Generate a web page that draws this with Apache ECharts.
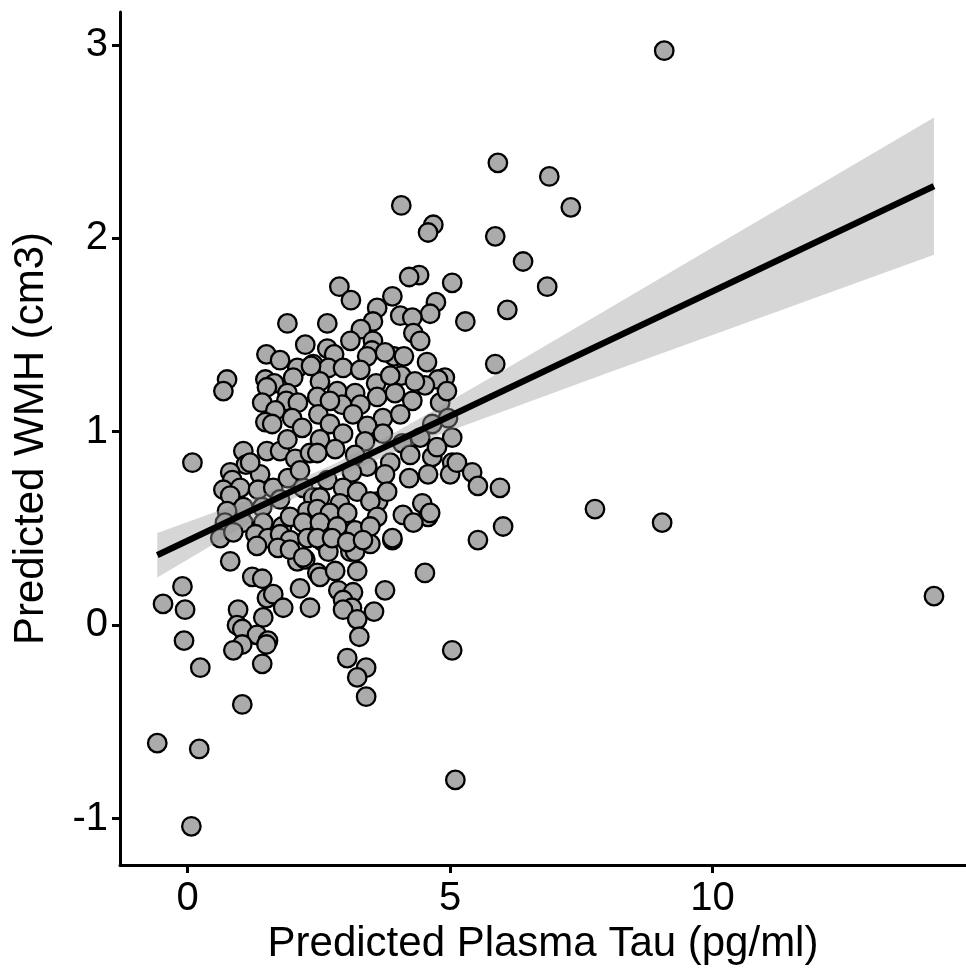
<!DOCTYPE html>
<html>
<head>
<meta charset="utf-8">
<script src="https://cdn.jsdelivr.net/npm/echarts@6/dist/echarts.min.js"></script>
<style>
  html, body { margin: 0; padding: 0; background: #fff; }
  #chart { width: 966px; height: 975px; }
</style>
</head>
<body>
<div id="chart"></div>
<script>
// Predicted plasma tau (pg/ml) for each participant
const tauX = [
  9.08, 5.91, 6.89, 7.30, 4.07, 4.68, 4.58, 5.86, 6.39, 2.89, 5.04, 6.85, 4.41, 4.22, 3.11, 4.73,
  3.90, 6.09, 3.61, 4.62, 4.05, 4.28, 1.90, 2.66, 5.29, 3.53, 3.30, 4.30, 4.43, 3.53, 3.51, 2.66,
  2.79, 3.42, 3.93, 4.12, 4.56, 2.39, 2.68, 2.96, 3.29, 4.07, 4.90, 4.77, 2.52, 2.85, 3.19, 3.59,
  3.61, 3.95, 4.28, 4.52, 4.81, 2.47, 2.94, 3.29, 2.49, 3.15, 3.72, 4.05, 2.71, 3.42, 1.50, 1.76,
  2.09, 2.35, 0.75, 0.68, 1.48, 1.65, 2.01, 1.51, 1.90, 1.42, 1.88, 2.10, 1.67, 1.99, 1.48, 2.18,
  0.09, 1.61, 1.06, 1.51, 1.76, 1.90, 2.05, 2.33, 1.11, 0.81, 1.38, 0.85, 0.68, 1.00, 1.34, 1.63,
  1.91, 2.20, 2.39, 0.81, 1.06, 1.42, 1.76, 0.75, 0.71, 1.06, 1.44, 1.80, 1.95, 2.28, 2.20, 0.62,
  0.87, 1.29, 1.53, 1.76, 1.95, 2.28, 1.32, -0.10, -0.47, -0.05, 0.81, 1.23, 1.42, 0.96, 0.94, 1.04,
  1.44, 1.51, 1.63, 1.82, 2.14, 2.33, 1.32, 1.53, 1.50, 1.04, 0.87, -0.07, 1.42, 0.24, 1.04, 2.09,
  2.24, 2.47, 1.72, 1.95, 2.20, 2.58, 2.68, 3.10, 3.19, 3.48, 3.90, 2.52, 2.81, 3.23, 4.52, 2.87,
  3.15, 2.96, 3.13, 2.96, 3.76, 3.55, 3.23, 3.27, 5.04, 3.04, 3.40, 3.23, 3.40, 2.52, 2.96, 3.38,
  3.72, 4.09, 4.43, 5.04, 2.81, 2.47, 3.86, 4.24, 4.66, 5.04, 3.42, 3.13, 3.76, 4.22, 4.58, 5.00,
  2.66, 2.96, 3.23, 2.52, 2.90, 3.63, 3.80, 3.48, 4.47, 2.47, 2.71, 3.04, 3.61, 4.10, 4.58, 4.30,
  2.52, 2.85, 3.19, 3.48, 2.47, 2.75, 3.04, 3.34, 3.90, 5.86, 4.94, 4.96, 4.75, 5.13, 5.42, 5.53,
  5.95, 7.76, 6.01, 5.53, 4.62, -0.58, 0.22, 0.07, 5.10, 9.04, 14.22, 2.24, 3.10, 3.76, 3.86, 4.33,
  2.71, 4.66, 3.19, 2.14, 1.19
];

// Predicted white matter hyperintensity volume (cm3), paired with tauX
const wmhY = [
  2.97, 2.39, 2.32, 2.16, 2.17, 2.07, 2.03, 2.01, 1.88, 1.75, 1.77, 1.75, 1.81, 1.80, 1.68, 1.67,
  1.70, 1.63, 1.64, 1.61, 1.60, 1.59, 1.56, 1.56, 1.57, 1.57, 1.53, 1.51, 1.47, 1.47, 1.42, 1.43,
  1.40, 1.39, 1.39, 1.39, 1.36, 1.35, 1.33, 1.33, 1.32, 1.29, 1.28, 1.27, 1.26, 1.21, 1.20, 1.25,
  1.18, 1.20, 1.16, 1.24, 1.15, 1.18, 1.14, 1.14, 1.09, 1.09, 1.07, 1.09, 1.04, 1.03, 1.40, 1.37,
  1.33, 1.34, 1.27, 1.21, 1.27, 1.25, 1.28, 1.23, 1.20, 1.15, 1.16, 1.15, 1.11, 1.07, 1.05, 1.02,
  0.84, 1.04, 0.90, 0.90, 0.90, 0.96, 0.86, 0.89, 0.83, 0.79, 0.78, 0.75, 0.70, 0.71, 0.70, 0.71,
  0.76, 0.71, 0.66, 0.67, 0.61, 0.61, 0.65, 0.59, 0.53, 0.53, 0.53, 0.51, 0.56, 0.59, 0.53, 0.45,
  0.48, 0.47, 0.45, 0.47, 0.44, 0.45, 0.41, 0.20, 0.11, 0.08, 0.33, 0.25, 0.24, 0.08, 0.00, -0.02,
  0.04, 0.14, 0.16, 0.09, 0.19, 0.09, -0.05, -0.08, -0.10, -0.10, -0.13, -0.08, -0.20, -0.22, -0.41, 0.33,
  0.34, 0.27, 0.40, 0.39, 0.35, 0.43, 0.38, 0.38, 0.38, 0.42, 0.44, 0.25, 0.28, 0.28, 0.27, 0.18,
  0.17, 0.13, 0.09, 0.08, 0.18, 0.07, 0.03, -0.06, -0.13, -0.17, -0.22, -0.27, -0.37, 0.96, 0.99, 0.95,
  0.99, 0.94, 0.97, 0.97, 0.91, 0.89, 0.84, 0.88, 0.87, 0.84, 0.82, 0.79, 0.78, 0.76, 0.78, 0.78,
  0.75, 0.71, 0.69, 0.66, 0.63, 0.64, 0.69, 0.64, 0.63, 0.60, 0.58, 0.58, 0.56, 0.57, 0.56, 0.53,
  0.53, 0.51, 0.49, 0.51, 0.45, 0.45, 0.43, 0.44, 0.45, 1.35, 1.21, 1.07, 0.92, 0.84, 0.79, 0.72,
  0.71, 0.60, 0.51, 0.44, 0.58, -0.61, -0.64, -1.04, -0.80, 0.53, 0.15, 1.45, 1.47, 1.41, 1.29, 1.26,
  1.16, 1.04, 0.88, 0.80, 0.84
];

// Fitted regression line and its 95% confidence band
const fitX = [-0.58, 14.22];
const fitY = [0.362, 2.270];
const bandX     = [-0.58, 1, 2, 2.8, 4, 5, 6, 8, 10, 12, 14.22];
const bandUpper = [0.477, 0.632, 0.738, 0.834, 1.004, 1.159, 1.315, 1.633, 1.952, 2.271, 2.625];
const bandLower = [0.247, 0.500, 0.652, 0.762, 0.902, 1.005, 1.105, 1.303, 1.500, 1.697, 1.915];

// Axis ticks
const xTicks = [0, 5, 10];
const yTicks = [-1, 0, 1, 2, 3];

const FONT = 'Liberation Sans, Arial, Helvetica, sans-serif';

const points = tauX.map((x, i) => [x, wmhY[i]]);
const fitLine = fitX.map((x, i) => [x, fitY[i]]);

const chart = echarts.init(document.getElementById('chart'), null, { renderer: 'canvas' });

const axisCommon = {
  type: 'value',
  splitLine: { show: false },
  axisLine: { show: true, onZero: false, lineStyle: { color: '#000', width: 3 } },
  axisTick: { show: true, length: 8, lineStyle: { color: '#000', width: 3 } },
  nameLocation: 'middle',
  nameTextStyle: { fontFamily: FONT, fontSize: 42, color: '#000' }
};

chart.setOption({
  animation: false,
  backgroundColor: '#fff',
  grid: { left: 120, right: 0, top: 12, bottom: 110, containLabel: false },
  xAxis: Object.assign({}, axisCommon, {
    min: -1.29,
    max: 14.83,
    name: 'Predicted Plasma Tau (pg/ml)',
    nameGap: 58,
    axisTick: Object.assign({}, axisCommon.axisTick, { customValues: xTicks }),
    axisLabel: {
      customValues: xTicks,
      fontFamily: FONT, fontSize: 40, color: '#000', margin: 14
    }
  }),
  yAxis: Object.assign({}, axisCommon, {
    min: -1.24,
    max: 3.17,
    name: 'Predicted WMH (cm3)',
    nameGap: 68,
    axisTick: Object.assign({}, axisCommon.axisTick, { customValues: yTicks }),
    axisLabel: {
      customValues: yTicks,
      fontFamily: FONT, fontSize: 40, color: '#000', margin: 12
    }
  }),
  series: [
    {
      type: 'scatter',
      data: points,
      symbol: 'circle',
      symbolSize: 18.5,
      itemStyle: { color: '#ABABAB', borderColor: '#000', borderWidth: 2.3, opacity: 1 },
      emphasis: { disabled: true },
      silent: true,
      z: 2
    },
    {
      type: 'custom',
      silent: true,
      z: 3,
      data: [[bandX[0], bandLower[0]]],
      renderItem: function (params, api) {
        const pts = [];
        for (let i = 0; i < bandX.length; i++) pts.push(api.coord([bandX[i], bandUpper[i]]));
        for (let i = bandX.length - 1; i >= 0; i--) pts.push(api.coord([bandX[i], bandLower[i]]));
        return {
          type: 'polygon',
          shape: { points: pts, smooth: 0 },
          style: { fill: 'rgba(153,153,153,0.4)', stroke: null }
        };
      }
    },
    {
      type: 'line',
      data: fitLine,
      symbol: 'none',
      silent: true,
      lineStyle: { color: '#000', width: 6.5 },
      z: 4
    }
  ]
});
</script>
</body>
</html>
